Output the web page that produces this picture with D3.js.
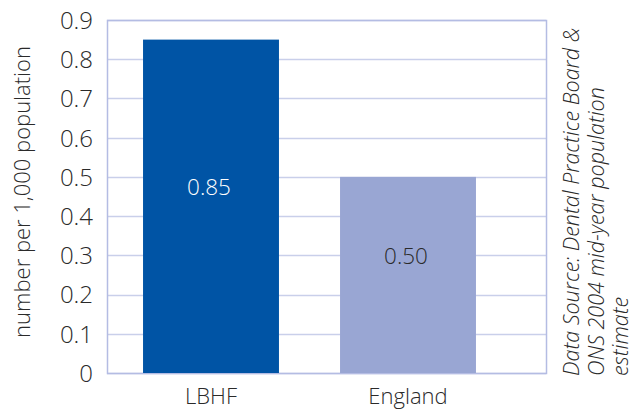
<!DOCTYPE html>
<html><head><meta charset="utf-8">
<script src="https://cdn.jsdelivr.net/npm/d3@7"></script>
<style>body{margin:0;background:#fff}svg{display:block}text{font-family:"Open Sans","Noto Sans",sans-serif;font-weight:300}</style>
</head><body>
<svg id="c" width="638" height="410"></svg>
<script>
const categories = ["LBHF", "England"];
const values = [0.85, 0.50];
const valueLabels = ["0.85", "0.50"];
const yTicks = [0, 0.1, 0.2, 0.3, 0.4, 0.5, 0.6, 0.7, 0.8, 0.9];
const yTickLabels = ["0", "0.1", "0.2", "0.3", "0.4", "0.5", "0.6", "0.7", "0.8", "0.9"];
const colors = ["#0054A5", "#99A6D3"];
const labelColors = ["#ffffff", "#2a2a2a"];
const yTitle = "number per 1,000 population";
const sourceLines = ["Data Source: Dental Practice Board &", "ONS 2004 mid-year population", "estimate"];

const svg = d3.select("#c");
const L = 107, R = 546, T = 20, B = 373;
const y = d3.scaleLinear().domain([0, 0.9]).range([B, T]);
const x = d3.scaleBand().domain(categories).range([112.5, 506.5]).paddingInner(0.31).paddingOuter(0.155);

// gridlines
svg.append("g").selectAll("line").data(yTicks).join("line")
  .attr("x1", L).attr("x2", R)
  .attr("y1", d => Math.round(y(d)) + 0.5).attr("y2", d => Math.round(y(d)) + 0.5)
  .attr("stroke", "#C9CFEA").attr("stroke-width", 1.5);
// frame
svg.append("rect").attr("x", L + 0.5).attr("y", T + 0.5).attr("width", R - L).attr("height", B - T)
  .attr("fill", "none").attr("stroke", "#B4BCE3").attr("stroke-width", 1.5);

// bars
svg.append("g").selectAll("rect").data(values).join("rect")
  .attr("x", (d, i) => x(categories[i])).attr("width", x.bandwidth())
  .attr("y", d => y(d)).attr("height", d => B - y(d))
  .attr("fill", (d, i) => colors[i]);

// value labels
svg.append("g").selectAll("text").data(values).join("text")
  .attr("x", (d, i) => x(categories[i]) + x.bandwidth() / 2 - 2)
  .attr("y", d => (y(d) + B) / 2 - 11)
  .attr("text-anchor", "middle").attr("font-size", 22.5)
  .attr("fill", (d, i) => labelColors[i])
  .text((d, i) => valueLabels[i]);

// y axis
const yAxis = d3.axisLeft(y).tickValues(yTicks).tickFormat((d, i) => yTickLabels[i]).tickSize(0).tickPadding(0);
const gy = svg.append("g").attr("transform", `translate(${93},0)`).call(yAxis);
gy.select(".domain").remove();
gy.selectAll("text").attr("font-size", 24).attr("fill", "#2a2a2a").attr("font-family", '"Open Sans","Noto Sans",sans-serif').attr("dy", "0.35em");

// x axis
const xAxis = d3.axisBottom(x).tickSize(0).tickPadding(0);
const gx = svg.append("g").attr("transform", `translate(0,${388})`).call(xAxis);
gx.select(".domain").remove();
gx.selectAll("text").attr("font-size", 22).attr("fill", "#2a2a2a").attr("font-family", '"Open Sans","Noto Sans",sans-serif').attr("dy", "0.71em");

// y title
svg.append("text").attr("transform", `translate(30,${192}) rotate(-90)`)
  .attr("text-anchor", "middle").attr("font-size", 22).attr("fill", "#2a2a2a").text(yTitle);

// source
svg.append("g").selectAll("text").data(sourceLines).join("text")
  .attr("transform", (d, i) => `translate(${579 + i * 24.5},${376}) rotate(-90)`)
  .attr("font-size", 21.5).attr("font-style", "italic").attr("fill", "#2a2a2a").text(d => d);
</script>
</body></html>
